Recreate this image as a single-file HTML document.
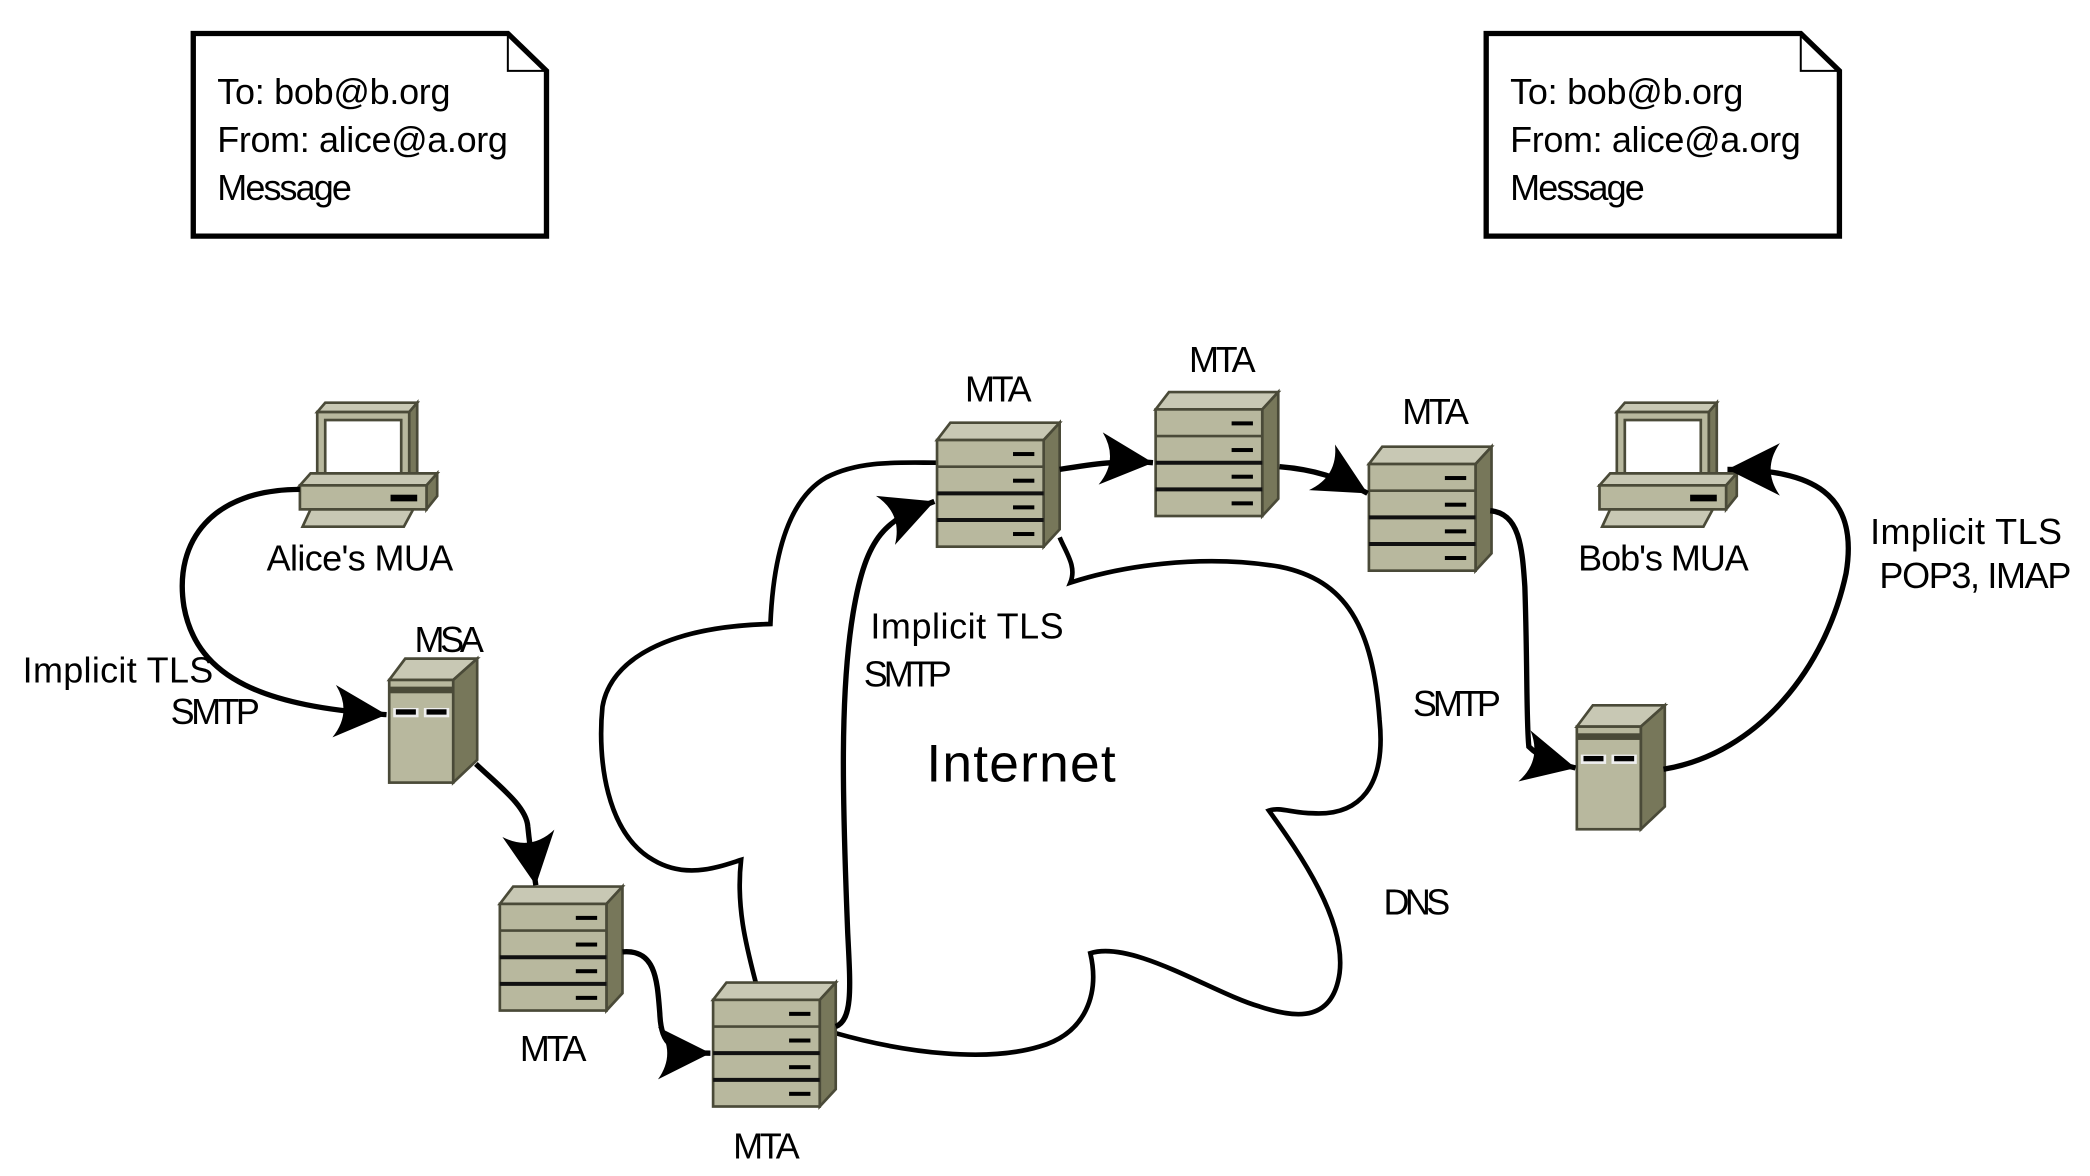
<!DOCTYPE html>
<html><head><meta charset="utf-8"><style>
html,body{margin:0;padding:0;background:#fff}
svg{display:block}
text{font-family:"Liberation Sans Narrow","Liberation Sans",sans-serif;font-size:27px;fill:#000}
</style></head><body>
<svg width="2090" height="1176" viewBox="0 0 1568 882" xmlns="http://www.w3.org/2000/svg">
<defs>
<marker id="ah" markerUnits="userSpaceOnUse" markerWidth="44" markerHeight="44" viewBox="-36 -19 38 38" refX="0" refY="0" orient="auto">
<path d="M0,0 L-34,-17 Q-22,0 -34,17 Z" fill="#000"/>
</marker>
<g id="rack" stroke="#4a4a38" stroke-width="2">
<polygon points="0,0 10,-13 92,-13 80,0" fill="#c8c8b4"/>
<polygon points="80,0 92,-13 92,67 80,80" fill="#77775a"/>
<rect x="0" y="0" width="80" height="80" fill="#b8b89e"/>
<line x1="0" y1="20" x2="80" y2="20"/>
<line x1="0" y1="40" x2="80" y2="40" stroke="#111" stroke-width="3"/>
<line x1="0" y1="60" x2="80" y2="60" stroke="#111" stroke-width="3"/>
<g fill="#000" stroke="none">
<rect x="57" y="9" width="16" height="3"/><rect x="57" y="29" width="16" height="3"/>
<rect x="57" y="49" width="16" height="3"/><rect x="57" y="69" width="16" height="3"/>
</g>
</g>
<g id="tower" stroke="#4a4a38" stroke-width="2">
<polygon points="0,0 12,-16 66,-16 48,0" fill="#c8c8b4"/>
<polygon points="48,0 66,-16 66,60 48,77" fill="#77775a"/>
<rect x="0" y="0" width="48" height="77" fill="#b8b89e"/>
<rect x="0" y="5" width="48" height="5" fill="#4a4a38" stroke="none"/>
<rect x="3" y="21" width="19" height="7" fill="#eee" stroke="none"/>
<rect x="26" y="21" width="19" height="7" fill="#eee" stroke="none"/>
<rect x="5" y="22" width="15" height="4" fill="#000" stroke="none"/>
<rect x="28" y="22" width="15" height="4" fill="#000" stroke="none"/>
</g>
<g id="pc" stroke="#4a4a38" stroke-width="2">
<polygon points="13,7 19,0 88,0 82,7" fill="#c8c8b4"/>
<polygon points="82,7 88,0 88,53 82,60" fill="#77775a"/>
<rect x="13" y="7" width="69" height="53" fill="#b8b89e"/>
<rect x="19" y="13" width="57" height="42" fill="#fff"/>
<polygon points="0,62 8,53 103,53 95,62" fill="#c8c8b4"/>
<polygon points="95,62 103,53 103,70 95,80" fill="#77775a"/>
<rect x="0" y="62" width="95" height="18" fill="#b8b89e"/>
<rect x="68" y="69" width="20" height="5" fill="#000" stroke="none"/>
<polygon points="10,93 2,93 8,80 85,80 78,93" fill="#c8c8b4"/>
</g>
</defs>

<path d="M145,25 L381,25 L410,53 L410,177 L145,177 Z" fill="#fff" stroke="#000" stroke-width="4"/>
<path d="M381,25 L381,53 L410,53" fill="none" stroke="#000" stroke-width="1.5"/>
<text x="163" y="78" textLength="175">To: bob@b.org</text>
<text x="163" y="114" textLength="218">From: alice@a.org</text>
<text x="163" y="150" textLength="101">Message</text>
<path d="M1115,25 L1351,25 L1380,53 L1380,177 L1115,177 Z" fill="#fff" stroke="#000" stroke-width="4"/>
<path d="M1351,25 L1351,53 L1380,53" fill="none" stroke="#000" stroke-width="1.5"/>
<text x="1133" y="78" textLength="175">To: bob@b.org</text>
<text x="1133" y="114" textLength="218">From: alice@a.org</text>
<text x="1133" y="150" textLength="101">Message</text>

<path d="M567,737 C560,710 552,680 556,645 C540,650 515,660 490,645 C455,625 448,570 452,530 C458,495 500,470 578,468 C580,420 590,375 620,358 C645,345 675,347 703,347
M795,403 C800,415 808,425 803,437 C840,425 900,415 960,425 C1010,435 1030,470 1035,540 C1040,590 1020,612 985,610 C970,610 960,605 952,608 C975,640 1010,690 1005,730 C1000,765 975,765 945,755 C910,745 850,705 818,715 C825,745 815,775 780,785 C740,797 680,790 627,775"
 fill="none" stroke="#000" stroke-width="3.5"/>

<use href="#pc" x="225" y="302"/>
<use href="#pc" x="1200" y="302"/>
<use href="#tower" x="292" y="510"/>
<use href="#tower" x="1183" y="545"/>
<use href="#rack" x="375" y="678"/>
<use href="#rack" x="535" y="750"/>
<use href="#rack" x="703" y="330"/>
<use href="#rack" x="867" y="307"/>
<use href="#rack" x="1027" y="348"/>

<g fill="none" stroke="#000" stroke-width="4">
<path d="M225,367 C160,367 130,405 138,455 C148,510 200,530 290,536" marker-end="url(#ah)"/>
<path d="M357,573 C375,590 395,605 396,620 C398,640 400,650 402,664" marker-end="url(#ah)"/>
<path d="M467,714 C492,712 493,735 495,760 C496,785 505,790 533,790" marker-end="url(#ah)"/>
<path d="M627,770 C640,765 638,740 636,700 C632,600 630,520 640,460 C650,400 665,390 701,376" marker-end="url(#ah)"/>
<path d="M795,352 C820,348 840,345 865,347" marker-end="url(#ah)"/>
<path d="M960,350 C985,352 1005,358 1026,370" marker-end="url(#ah)"/>
<path d="M1118,383 C1140,385 1142,410 1144,440 C1146,500 1145,540 1147,560 C1155,568 1165,572 1182,576" marker-end="url(#ah)"/>
<path d="M1248,577 C1320,565 1370,500 1385,430 C1395,370 1360,352 1296,352" marker-end="url(#ah)"/>
</g>

<text x="270" y="428" text-anchor="middle" textLength="140">Alice's MUA</text>
<text x="1248" y="428" text-anchor="middle" textLength="128">Bob's MUA</text>
<text x="337" y="489" text-anchor="middle" textLength="52">MSA</text>
<text x="415" y="796" text-anchor="middle" textLength="50">MTA</text>
<text x="575" y="869" text-anchor="middle" textLength="50">MTA</text>
<text x="749" y="301" text-anchor="middle" textLength="50">MTA</text>
<text x="917" y="279" text-anchor="middle" textLength="50">MTA</text>
<text x="1077" y="318" text-anchor="middle" textLength="50">MTA</text>
<text x="17" y="512" textLength="143">Implicit TLS</text>
<text x="128" y="543" textLength="67">SMTP</text>
<text x="653" y="479" textLength="145">Implicit TLS</text>
<text x="648" y="515" textLength="66">SMTP</text>
<text x="695" y="586" style="font-size:40px" textLength="142">Internet</text>
<text x="1060" y="537" textLength="66">SMTP</text>
<text x="1038" y="686" textLength="50">DNS</text>
<text x="1403" y="408" textLength="144">Implicit TLS</text>
<text x="1410" y="441" textLength="144">POP3, IMAP</text>
</svg>
</body></html>
